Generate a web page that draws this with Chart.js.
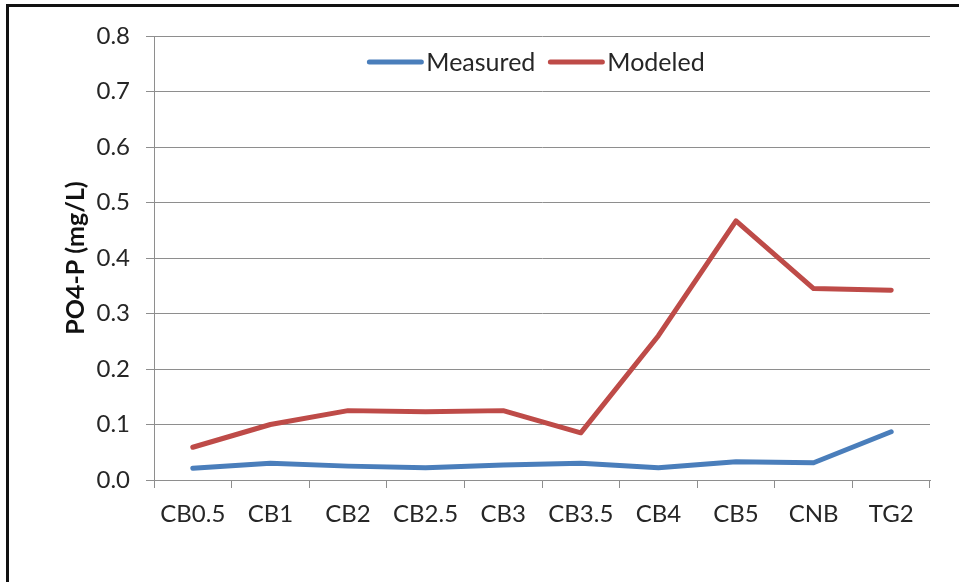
<!DOCTYPE html>
<html>
<head>
<meta charset="utf-8">
<script src="https://cdn.jsdelivr.net/npm/chart.js@4.4.0/dist/chart.umd.min.js"></script>
<style>
html,body{margin:0;padding:0;background:#fff;}
#frame{position:absolute;left:6px;top:4px;width:980px;height:600px;border-left:3px solid #111;border-top:3px solid #111;}
#c{position:absolute;left:0;top:0;}
</style>
</head>
<body>
<div id="frame"></div>
<canvas id="c" width="959" height="582"></canvas>
<script>
const categories = ['CB0.5','CB1','CB2','CB2.5','CB3','CB3.5','CB4','CB5','CNB','TG2'];
const measured = [0.021,0.030,0.025,0.022,0.027,0.030,0.022,0.033,0.031,0.087];
const modeled  = [0.059,0.100,0.125,0.123,0.125,0.085,0.260,0.467,0.345,0.342];
const seriesNames = ['Measured','Modeled'];
const yTicks = [0,0.1,0.2,0.3,0.4,0.5,0.6,0.7,0.8];

const FONT = 'Lato, "Open Sans", sans-serif';
const TXT = '#262626';
const GRID = '#8e8e8e';

// Legend drawn inside the plot area, one row, centred near the top
const insideLegend = {
  id: 'insideLegend',
  afterDatasetsDraw(chart) {
    const ctx = chart.ctx;
    const area = chart.chartArea;
    const lineW = 56, gap = 3, itemGap = 13;
    ctx.save();
    ctx.font = '25px ' + FONT;
    const items = chart.data.datasets.map(d => ({label: d.label, color: d.borderColor, w: lineW + gap + ctx.measureText(d.label).width}));
    const total = items.reduce((a, it) => a + it.w, 0) + itemGap * (items.length - 1);
    let x = (area.left + area.right) / 2 - 6 - total / 2;
    const y = area.top + 26;
    items.forEach(it => {
      ctx.strokeStyle = it.color;
      ctx.lineWidth = 5;
      ctx.lineCap = 'round';
      ctx.beginPath();
      ctx.moveTo(x + 2, y);
      ctx.lineTo(x + lineW - 2, y);
      ctx.stroke();
      ctx.fillStyle = TXT;
      ctx.textBaseline = 'middle';
      ctx.textAlign = 'left';
      ctx.fillText(it.label, x + lineW + gap, y + 1);
      x += it.w + itemGap;
    });
    ctx.restore();
  }
};

new Chart(document.getElementById('c'), {
  type: 'line',
  data: {
    labels: categories,
    datasets: [
      {label: seriesNames[0], data: measured, borderColor: '#4A7EBB', backgroundColor: '#4A7EBB', borderWidth: 5, pointRadius: 0, tension: 0, borderCapStyle: 'round', borderJoinStyle: 'round'},
      {label: seriesNames[1], data: modeled, borderColor: '#BE4B48', backgroundColor: '#BE4B48', borderWidth: 5, pointRadius: 0, tension: 0, borderCapStyle: 'round', borderJoinStyle: 'round'}
    ]
  },
  plugins: [insideLegend],
  options: {
    responsive: false,
    animation: false,
    events: [],
    layout: {padding: {left: 0, right: 29, top: 36, bottom: 0}},
    plugins: {
      tooltip: {enabled: false},
      legend: {display: false}
    },
    scales: {
      x: {
        offset: true,
        grid: {offset: true, drawOnChartArea: false, drawTicks: true, tickLength: 8, color: GRID},
        border: {color: GRID, width: 1},
        ticks: {font: {family: FONT, size: 24}, color: TXT, padding: 12, maxRotation: 0, autoSkip: false},
        afterFit: s => { s.height = 102; }
      },
      y: {
        min: 0, max: 0.8,
        afterBuildTicks: s => { s.ticks = yTicks.map(v => ({value: v})); },
        grid: {color: GRID, drawTicks: true, tickLength: 8},
        border: {color: GRID, width: 1},
        ticks: {font: {family: FONT, size: 24}, color: TXT, padding: 16, callback: v => Number(v).toFixed(1)},
        title: {display: true, text: 'PO4-P (mg/L)', font: {family: FONT, size: 25, weight: 'bold'}, color: '#111', padding: {top: 61, bottom: 0}},
        afterFit: s => { s.width = 154; }
      }
    }
  }
});
</script>
</body>
</html>
